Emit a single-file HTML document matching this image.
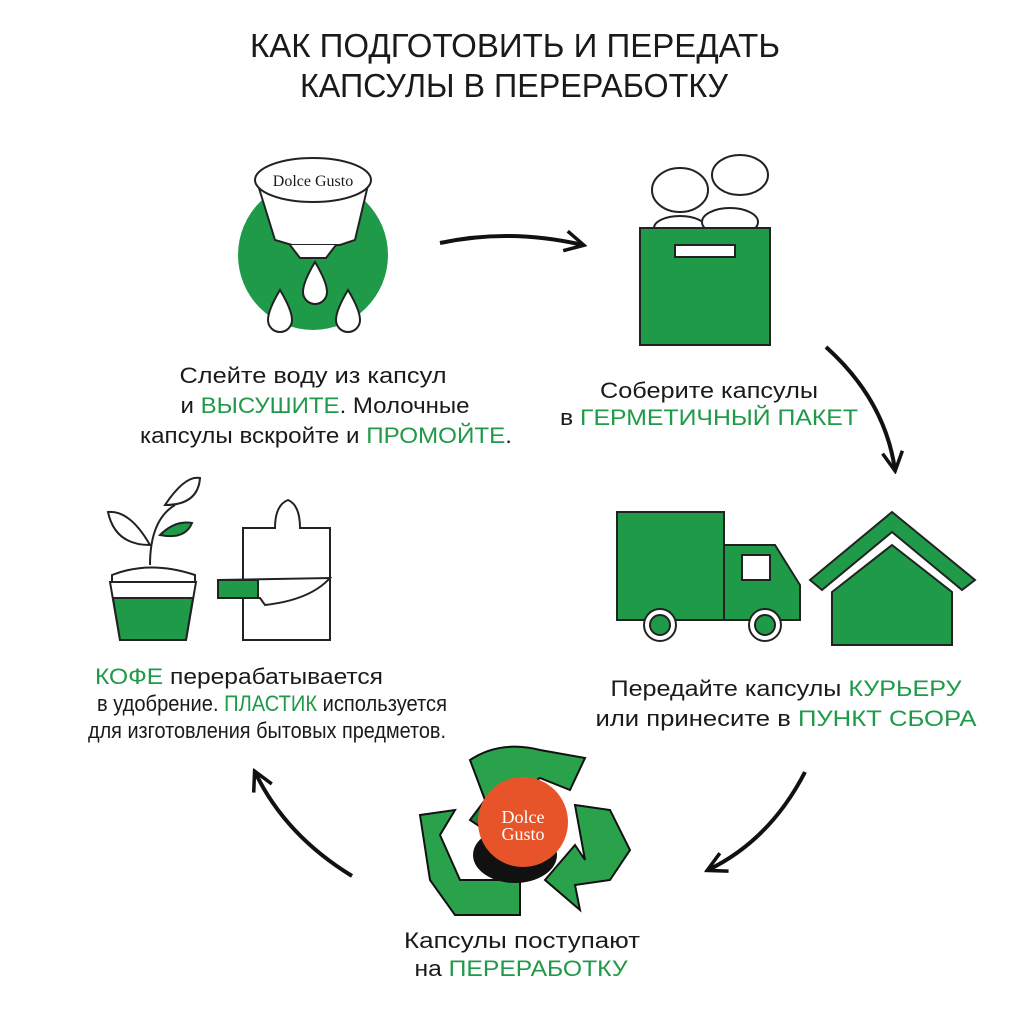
<!DOCTYPE html>
<html><head><meta charset="utf-8"><style>
html,body{margin:0;padding:0;background:#fff;width:1009px;height:1009px;overflow:hidden}
svg{display:block}
text{font-family:"Liberation Sans",sans-serif;fill:#1a1a1a}
.g{fill:#1f9a48}
</style></head><body>
<svg width="1009" height="1009" viewBox="0 0 1009 1009">
<defs>
<marker id="ah2" markerWidth="24" markerHeight="24" refX="20" refY="12" orient="auto" markerUnits="userSpaceOnUse"><path d="M2,2 L21,12 L2,22" fill="none" stroke="#111" stroke-width="3.5"/></marker></defs>
<g font-size="33" text-anchor="middle">
<text x="515" y="57" textLength="530" lengthAdjust="spacingAndGlyphs">КАК ПОДГОТОВИТЬ И ПЕРЕДАТЬ</text>
<text x="514" y="97" textLength="428" lengthAdjust="spacingAndGlyphs">КАПСУЛЫ В ПЕРЕРАБОТКУ</text>
</g>
<!-- step1 -->
<circle cx="313" cy="255" r="75" fill="#1f9a48"/>
<path d="M258,185 L275,240 L292,245 L340,245 L355,240 L368,185 Z" fill="#fff" stroke="#222" stroke-width="2"/>
<ellipse cx="313" cy="180" rx="58" ry="22" fill="#fff" stroke="#222" stroke-width="2"/>
<text x="313" y="186" font-size="16" text-anchor="middle" style="font-family:'Liberation Serif'">Dolce Gusto</text>
<path d="M290,245 L300,258 L326,258 L336,245" fill="#fff" stroke="#222" stroke-width="2"/>
<g fill="#fff" stroke="#222" stroke-width="2">
<path d="M280,290 Q268,310 268,320 A12,12 0 0 0 292,320 Q292,310 280,290Z"/>
<path d="M315,262 Q303,282 303,292 A12,12 0 0 0 327,292 Q327,282 315,262Z"/>
<path d="M348,290 Q336,310 336,320 A12,12 0 0 0 360,320 Q360,310 348,290Z"/>
</g>
<g font-size="22" text-anchor="middle">
<text x="313" y="383" textLength="267" lengthAdjust="spacingAndGlyphs">Слейте воду из капсул</text>
<text x="325" y="413" textLength="289" lengthAdjust="spacingAndGlyphs">и <tspan class="g">ВЫСУШИТЕ</tspan>. Молочные</text>
<text x="326" y="443" textLength="372" lengthAdjust="spacingAndGlyphs">капсулы вскройте и <tspan class="g">ПРОМОЙТЕ</tspan>.</text>
</g>
<path d="M440,243 Q510,228 583,245" fill="none" stroke="#111" stroke-width="4" marker-end="url(#ah2)"/>
<!-- step2 -->
<g stroke="#222" stroke-width="2" fill="#fff">
<ellipse cx="680" cy="190" rx="28" ry="22"/><ellipse cx="740" cy="175" rx="28" ry="20"/>
<ellipse cx="680" cy="228" rx="26" ry="12"/><ellipse cx="730" cy="222" rx="28" ry="14"/>
</g>
<rect x="640" y="228" width="130" height="117" fill="#1f9a48" stroke="#222" stroke-width="2"/>
<rect x="675" y="245" width="60" height="12" fill="#fff" stroke="#222" stroke-width="2"/>
<g font-size="22" text-anchor="middle">
<text x="709" y="398" textLength="218" lengthAdjust="spacingAndGlyphs">Соберите капсулы</text>
<text x="709" y="425" textLength="298" lengthAdjust="spacingAndGlyphs">в <tspan class="g">ГЕРМЕТИЧНЫЙ ПАКЕТ</tspan></text>
</g>
<path d="M826,347 Q885,400 895,470" fill="none" stroke="#111" stroke-width="4" marker-end="url(#ah2)"/>
<!-- step3 truck/house -->
<g stroke="#222" stroke-width="2" fill="#1f9a48">
<rect x="617" y="512" width="107" height="108"/>
<path d="M724,545 L775,545 L800,585 L800,620 L724,620 Z"/>
<rect x="742" y="555" width="28" height="25" fill="#fff"/>
<circle cx="660" cy="625" r="16" fill="#fff"/><circle cx="660" cy="625" r="10"/>
<circle cx="765" cy="625" r="16" fill="#fff"/><circle cx="765" cy="625" r="10"/>
<path d="M810,580 L892,512 L975,580 L962,590 L892,532 L822,590 Z"/>
<path d="M832,592 L892,545 L952,592 L952,645 L832,645 Z"/>
</g>
<g font-size="22" text-anchor="middle">
<text x="786" y="696" textLength="351" lengthAdjust="spacingAndGlyphs">Передайте капсулы <tspan class="g">КУРЬЕРУ</tspan></text>
<text x="786" y="726" textLength="381" lengthAdjust="spacingAndGlyphs">или принесите в <tspan class="g">ПУНКТ СБОРА</tspan></text>
</g>
<path d="M805,772 Q770,840 708,870" fill="none" stroke="#111" stroke-width="4" marker-end="url(#ah2)"/>
<!-- recycle -->
<g stroke="#111" stroke-width="2">
<path d="M470,760 Q500,740 540,750 L585,758 L570,790 L540,778 L520,790 L485,800 Z" fill="#2aa24c"/>
<path d="M575,805 L610,810 L630,850 L610,880 L575,885 L580,910 L545,880 L575,845 L585,860 Z" fill="#2aa24c"/>
<path d="M420,815 L455,810 L440,835 L460,880 L520,880 L520,915 L455,915 L430,880 Z" fill="#2aa24c"/>
<path d="M485,800 L520,790 L500,840 L470,820 Z" fill="#1d7e3d"/>
</g>
<ellipse cx="515" cy="855" rx="42" ry="28" fill="#111"/>
<circle cx="523" cy="822" r="45" fill="#e8542a"/>
<text x="523" y="823" font-size="18" text-anchor="middle" style="fill:#fff;font-family:'Liberation Serif'">Dolce</text>
<text x="523" y="840" font-size="18" text-anchor="middle" style="fill:#fff;font-family:'Liberation Serif'">Gusto</text>
<g font-size="22" text-anchor="middle">
<text x="522" y="948" textLength="236" lengthAdjust="spacingAndGlyphs">Капсулы поступают</text>
<text x="521" y="976" textLength="213" lengthAdjust="spacingAndGlyphs">на <tspan class="g">ПЕРЕРАБОТКУ</tspan></text>
</g>
<path d="M352,876 Q285,835 255,772" fill="none" stroke="#111" stroke-width="4" marker-end="url(#ah2)"/>
<!-- step5 -->
<g stroke="#222" stroke-width="2">
<path d="M150,565 Q150,520 175,505" fill="none"/>
<path d="M150,545 Q130,510 108,512 Q115,545 150,545Z" fill="#fff"/>
<path d="M165,505 Q185,475 200,478 Q198,505 165,505Z" fill="#fff"/>
<path d="M160,535 Q175,520 192,523 Q185,540 160,535Z" fill="#1f9a48"/>
<path d="M112,575 Q150,560 195,575 L195,582 L112,582Z" fill="#fff"/>
<path d="M110,582 L196,582 L186,640 L120,640 Z" fill="#fff"/>
<path d="M113,598 L193,598 L186,640 L120,640 Z" fill="#1f9a48"/>
<path d="M243,528 L275,528 Q275,505 288,500 Q300,505 300,528 L330,528 L330,640 L243,640 Z" fill="#fff"/>
<path d="M218,580 L330,578 Q310,600 265,605 L260,598 L218,598 Z" fill="#fff"/>
<rect x="218" y="580" width="40" height="18" fill="#1f9a48"/>
</g>
<g font-size="22" text-anchor="middle">
<text x="239" y="684" textLength="288" lengthAdjust="spacingAndGlyphs"><tspan class="g">КОФЕ</tspan> перерабатывается</text>
<text x="272" y="711" textLength="350" lengthAdjust="spacingAndGlyphs">в удобрение. <tspan class="g">ПЛАСТИК</tspan> используется</text>
<text x="267" y="738" textLength="358" lengthAdjust="spacingAndGlyphs">для изготовления бытовых предметов.</text>
</g>
</svg>
</body></html>
